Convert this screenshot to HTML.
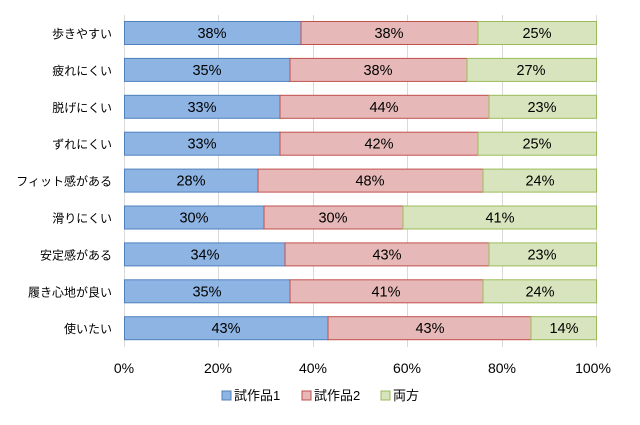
<!DOCTYPE html>
<html><head><meta charset="utf-8"><style>
body{margin:0;background:#fff;}
svg text{font-family:"Liberation Sans","Noto Sans CJK JP",sans-serif;}
</style></head><body>
<svg width="640" height="420" xmlns="http://www.w3.org/2000/svg">
<rect width="640" height="420" fill="#fff"/>
<g stroke="#D9D9D9" stroke-width="1">
<line x1="124.5" y1="15" x2="124.5" y2="347"/>
<line x1="218.5" y1="15" x2="218.5" y2="347"/>
<line x1="313.5" y1="15" x2="313.5" y2="347"/>
<line x1="407.5" y1="15" x2="407.5" y2="347"/>
<line x1="502.5" y1="15" x2="502.5" y2="347"/>
<line x1="596.5" y1="15" x2="596.5" y2="347"/>
</g>
<g font-size="14" text-anchor="middle" fill="#000">
<text x="124" y="373">0%</text><text x="218" y="373">20%</text><text x="313" y="373">40%</text><text x="407" y="373">60%</text><text x="502" y="373">80%</text><text x="593" y="373">100%</text>
</g>
<g font-size="14.5" text-anchor="middle">
<rect x="124.5" y="21.5" width="176.5" height="23" fill="#8EB4E3" stroke="#4F81BD"/>
<rect x="301" y="21.5" width="177" height="23" fill="#E6B9B8" stroke="#C0504D"/>
<rect x="478" y="21.5" width="118.5" height="23" fill="#D7E4BD" stroke="#9BBB59"/>
<text x="212" y="38">38%</text><text x="389" y="38">38%</text><text x="537" y="38">25%</text>
<rect x="124.5" y="58.4" width="165.5" height="23" fill="#8EB4E3" stroke="#4F81BD"/>
<rect x="290" y="58.4" width="177" height="23" fill="#E6B9B8" stroke="#C0504D"/>
<rect x="467" y="58.4" width="129.5" height="23" fill="#D7E4BD" stroke="#9BBB59"/>
<text x="207" y="74.9">35%</text><text x="378" y="74.9">38%</text><text x="531" y="74.9">27%</text>
<rect x="124.5" y="95.3" width="155.5" height="23" fill="#8EB4E3" stroke="#4F81BD"/>
<rect x="280" y="95.3" width="209" height="23" fill="#E6B9B8" stroke="#C0504D"/>
<rect x="489" y="95.3" width="107.5" height="23" fill="#D7E4BD" stroke="#9BBB59"/>
<text x="202" y="111.8">33%</text><text x="384" y="111.8">44%</text><text x="542" y="111.8">23%</text>
<rect x="124.5" y="132.2" width="155.5" height="23" fill="#8EB4E3" stroke="#4F81BD"/>
<rect x="280" y="132.2" width="198" height="23" fill="#E6B9B8" stroke="#C0504D"/>
<rect x="478" y="132.2" width="118.5" height="23" fill="#D7E4BD" stroke="#9BBB59"/>
<text x="202" y="148.7">33%</text><text x="379" y="148.7">42%</text><text x="537" y="148.7">25%</text>
<rect x="124.5" y="169.1" width="133.5" height="23" fill="#8EB4E3" stroke="#4F81BD"/>
<rect x="258" y="169.1" width="225" height="23" fill="#E6B9B8" stroke="#C0504D"/>
<rect x="483" y="169.1" width="113.5" height="23" fill="#D7E4BD" stroke="#9BBB59"/>
<text x="191" y="185.6">28%</text><text x="370" y="185.6">48%</text><text x="540" y="185.6">24%</text>
<rect x="124.5" y="206" width="139.5" height="23" fill="#8EB4E3" stroke="#4F81BD"/>
<rect x="264" y="206" width="139" height="23" fill="#E6B9B8" stroke="#C0504D"/>
<rect x="403" y="206" width="193.5" height="23" fill="#D7E4BD" stroke="#9BBB59"/>
<text x="194" y="222.5">30%</text><text x="333" y="222.5">30%</text><text x="500" y="222.5">41%</text>
<rect x="124.5" y="242.9" width="160.5" height="23" fill="#8EB4E3" stroke="#4F81BD"/>
<rect x="285" y="242.9" width="204" height="23" fill="#E6B9B8" stroke="#C0504D"/>
<rect x="489" y="242.9" width="107.5" height="23" fill="#D7E4BD" stroke="#9BBB59"/>
<text x="205" y="259.4">34%</text><text x="387" y="259.4">43%</text><text x="542" y="259.4">23%</text>
<rect x="124.5" y="279.8" width="165.5" height="23" fill="#8EB4E3" stroke="#4F81BD"/>
<rect x="290" y="279.8" width="193" height="23" fill="#E6B9B8" stroke="#C0504D"/>
<rect x="483" y="279.8" width="113.5" height="23" fill="#D7E4BD" stroke="#9BBB59"/>
<text x="207" y="296.3">35%</text><text x="386" y="296.3">41%</text><text x="540" y="296.3">24%</text>
<rect x="124.5" y="316.7" width="203.5" height="23" fill="#8EB4E3" stroke="#4F81BD"/>
<rect x="328" y="316.7" width="203" height="23" fill="#E6B9B8" stroke="#C0504D"/>
<rect x="531" y="316.7" width="65.5" height="23" fill="#D7E4BD" stroke="#9BBB59"/>
<text x="226" y="333.2">43%</text><text x="430" y="333.2">43%</text><text x="564" y="333.2">14%</text>
</g>
<g font-size="12" text-anchor="end">
<text x="112" y="38">歩きやすい</text>
<text x="112" y="74.9">疲れにくい</text>
<text x="112" y="111.8">脱げにくい</text>
<text x="112" y="148.7">ずれにくい</text>
<text x="112" y="185.6">フィット感がある</text>
<text x="112" y="222.5">滑りにくい</text>
<text x="112" y="259.4">安定感がある</text>
<text x="112" y="296.3">履き心地が良い</text>
<text x="112" y="333.2">使いたい</text>
</g>
<g font-size="13">
<rect x="222" y="391" width="9" height="9" fill="#8EB4E3" stroke="#4F81BD"/><text x="234" y="400">試作品1</text>
<rect x="302" y="391" width="9" height="9" fill="#E6B9B8" stroke="#C0504D"/><text x="314" y="400">試作品2</text>
<rect x="381" y="391" width="9" height="9" fill="#D7E4BD" stroke="#9BBB59"/><text x="393" y="400">両方</text>
</g>
</svg>
</body></html>
